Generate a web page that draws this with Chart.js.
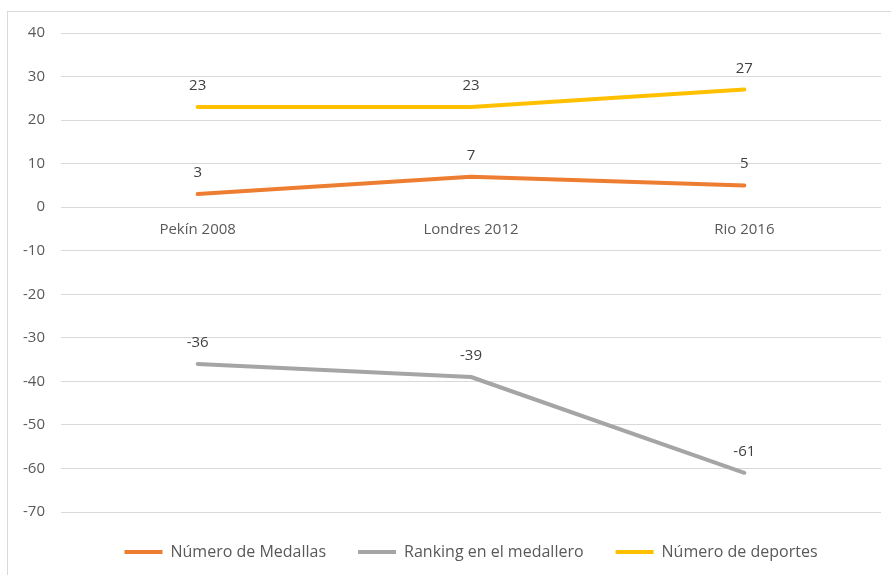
<!DOCTYPE html>
<html>
<head>
<meta charset="utf-8">
<script src="https://cdn.jsdelivr.net/npm/chart.js@4.4.1/dist/chart.umd.min.js"></script>
<style>
  html, body { margin: 0; padding: 0; background: #ffffff; }
  canvas { display: block; }
</style>
</head>
<body>
<canvas id="c" width="891" height="575"></canvas>
<script>
const categories = ['Pekín 2008', 'Londres 2012', 'Rio 2016'];
const medallas = [3, 7, 5];
const ranking = [-36, -39, -61];
const deportes = [23, 23, 27];
const seriesNames = ['Número de Medallas', 'Ranking en el medallero', 'Número de deportes'];
const yMin = -70, yMax = 40, yStep = 10;

const FONT = "'Open Sans', 'Liberation Sans', sans-serif";

const borderPlugin = {
  id: 'borderBox',
  beforeDraw(chart) {
    const ctx = chart.ctx;
    ctx.save();
    ctx.fillStyle = '#ffffff';
    ctx.fillRect(0, 0, chart.width, chart.height);
    ctx.strokeStyle = '#d9d9d9';
    ctx.lineWidth = 1;
    ctx.strokeRect(7.5, 11.5, 1000, 1000);
    ctx.restore();
  }
};

const labelPlugin = {
  id: 'valueLabels',
  afterDatasetsDraw(chart) {
    const ctx = chart.ctx;
    ctx.save();
    ctx.font = '15px ' + FONT;
    ctx.fillStyle = '#404040';
    ctx.textAlign = 'center';
    ctx.textBaseline = 'alphabetic';
    chart.data.datasets.forEach((ds, i) => {
      const meta = chart.getDatasetMeta(i);
      meta.data.forEach((pt, j) => {
        ctx.fillText(String(ds.data[j]), pt.x, pt.y - 17);
      });
    });
    ctx.restore();
  }
};

new Chart(document.getElementById('c'), {
  type: 'line',
  data: {
    labels: categories,
    datasets: [
      { label: seriesNames[0], data: medallas, borderColor: '#ED7D31', backgroundColor: '#ED7D31', pointBorderColor: '#ED7D31', pointBorderWidth: 4 },
      { label: seriesNames[1], data: ranking, borderColor: '#A5A5A5', backgroundColor: '#A5A5A5', pointBorderColor: '#A5A5A5', pointBorderWidth: 4 },
      { label: seriesNames[2], data: deportes, borderColor: '#FFC000', backgroundColor: '#FFC000', pointBorderColor: '#FFC000', pointBorderWidth: 4 }
    ]
  },
  options: {
    responsive: false,
    animation: false,
    devicePixelRatio: 1,
    layout: { padding: { top: 33, right: 10, left: 0, bottom: 5 } },
    elements: {
      line: { borderWidth: 4, tension: 0, borderCapStyle: 'round', borderJoinStyle: 'round', fill: false },
      point: { radius: 0, hoverRadius: 0 }
    },
    plugins: {
      legend: {
        position: 'bottom',
        fullSize: false,
        labels: {
          font: { family: FONT, size: 16 },
          color: '#595959',
          usePointStyle: true,
          pointStyle: 'line',
          pointStyleWidth: 38,
          boxWidth: 38,
          boxHeight: 4,
          padding: 32
        }
      },
      tooltip: { enabled: false }
    },
    scales: {
      x: {
        type: 'category',
        offset: true,
        position: { y: 0 },
        grid: { display: false },
        border: { display: false },
        ticks: { font: { family: FONT, size: 15 }, color: '#595959', padding: 6, maxRotation: 0 }
      },
      y: {
        min: yMin,
        max: yMax,
        afterFit(scale) { scale.width = 61; },
        grid: { color: '#d9d9d9', lineWidth: 1, drawTicks: false },
        border: { display: false },
        ticks: { stepSize: yStep, font: { family: FONT, size: 15 }, color: '#595959', padding: 16 }
      }
    }
  },
  plugins: [borderPlugin, labelPlugin]
});
</script>
</body>
</html>
